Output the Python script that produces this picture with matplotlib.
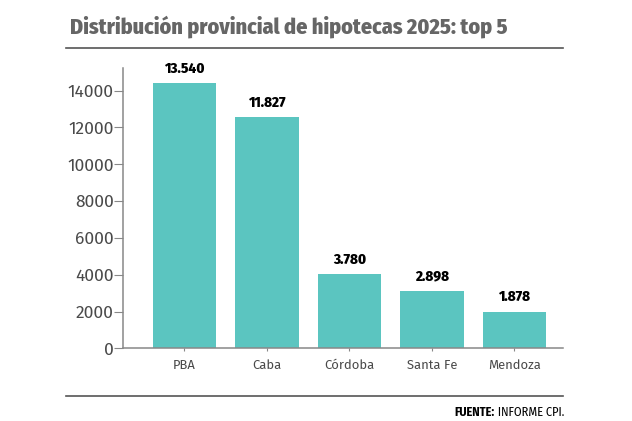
import matplotlib.pyplot as plt
from matplotlib import font_manager

provincias = ["PBA", "Caba", "Córdoba", "Santa Fe", "Mendoza"]
# bar heights as drawn in the picture
alturas = [14420, 12560, 4020, 3110, 1990]
etiquetas = ["13.540", "11.827", "3.780", "2.898", "1.878"]
yticks = [0, 2000, 4000, 6000, 8000, 10000, 12000, 14000]

names = {f.name for f in font_manager.fontManager.ttflist}


def pick(cands):
    for c in cands:
        if c in names:
            return [c, 'DejaVu Sans']
    return ['DejaVu Sans']


cond = pick(["Fira Sans Condensed", "Roboto Condensed", "Asap Condensed"])
normal = pick(["Fira Sans", "PT Sans", "Open Sans"])
plt.rcParams['font.family'] = cond

W, H = 632, 421
fig = plt.figure(figsize=(W / 100, H / 100), dpi=100)
ax = fig.add_axes([123.3 / W, 1 - 348.3 / H, (563 - 123.3) / W, (348.3 - 67.7) / H])

x = range(len(provincias))
ax.bar(x, alturas, width=0.77, color='#5bc5c0', zorder=2)
labs = []
for i, h in enumerate(alturas):
    labs.append(ax.text(i, h + 400, etiquetas[i], ha='center', va='bottom', fontsize=11,
                        fontweight=800, color='black'))

ax.set_xlim(-0.74, 4.59)
ax.set_ylim(0, 15250)
ax.set_yticks(yticks)
ax.set_xticks(list(x))
ax.set_xticklabels(provincias)
ax.tick_params(axis='both', colors='#888888', labelcolor='#4a4a4a')
ax.tick_params(axis='y', length=6.5, pad=0.5, labelsize=12.5)
ax.tick_params(axis='x', length=2.5, pad=5, labelsize=9.5)
for lab in ax.get_xticklabels() + ax.get_yticklabels():
    lab.set_family(normal)
    lab.set_fontweight('normal')
for s in ['top', 'right']:
    ax.spines[s].set_visible(False)
for s in ['left', 'bottom']:
    ax.spines[s].set_color('#888888')
    ax.spines[s].set_linewidth(1.1)

titulo = fig.text(70 / W, 1 - 27 / H, "Distribución provincial de hipotecas 2025: top 5", fontsize=16,
                  fontweight=800, color='#666666', va='center', ha='left')
fig.add_artist(plt.Line2D([66 / W, 563 / W], [1 - 48 / H, 1 - 48 / H], color='#555555', lw=1.2))
fig.add_artist(plt.Line2D([66 / W, 563 / W], [1 - 396 / H, 1 - 396 / H], color='#555555', lw=1.2))
f1 = fig.text(564 / W, 1 - 412 / H, "FUENTE:", fontsize=8, fontweight='bold', color='black',
              ha='right', va='center')
f2 = fig.text(564 / W, 1 - 412 / H, " INFORME CPI.", fontsize=8, color='black', ha='right', va='center')

# ajustar anchos medidos en la referencia
fig.canvas.draw()
titulo.set_fontsize(16 * 437 / titulo.get_window_extent().width)
k = 41 / labs[0].get_window_extent().width
for t in labs:
    t.set_fontsize(11 * k)
ky = 46 / ax.get_yticklabels()[-1].get_window_extent().width
kx = 23 / ax.get_xticklabels()[0].get_window_extent().width
ax.tick_params(axis='y', labelsize=12.5 * ky)
ax.tick_params(axis='x', labelsize=9.5 * kx)
fig.canvas.draw()
ancho = f1.get_window_extent().width + f2.get_window_extent().width
f1.set_fontsize(8 * 111 / ancho)
f2.set_fontsize(8 * 111 / ancho)
fig.canvas.draw()
r = f2.get_window_extent()
f1.set_position((r.x0 / W, 1 - 412 / H))

fig.savefig("out.png", dpi=100)
